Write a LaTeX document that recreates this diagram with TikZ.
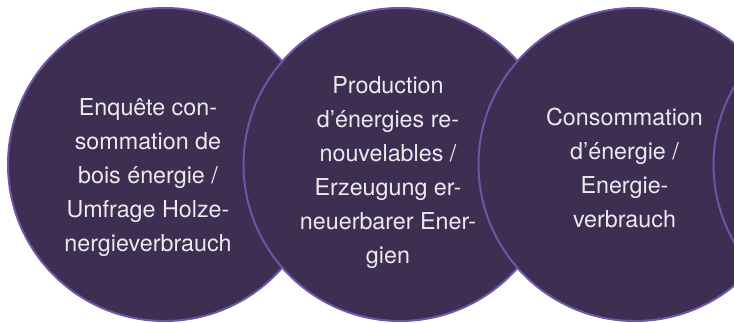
\documentclass[tikz,border=0pt]{standalone}
\usepackage{fontspec}
\setmainfont{TeX Gyre Heros}
\definecolor{circfill}{HTML}{3D2E52}
\definecolor{circedge}{HTML}{6C56A6}
\definecolor{txtcol}{HTML}{EBEBEE}
\newcommand{\topstrut}{\rule{0pt}{20pt}}
\begin{document}
\begin{tikzpicture}[x=1pt,y=-1pt,
  circ/.style={circle, fill=circfill, draw=circedge, line width=2pt, minimum size=313pt, inner sep=0pt},
  lbl/.style={align=center, text=txtcol, font=\fontsize{23.3}{34}\selectfont, inner sep=0pt, anchor=north}]
\useasboundingbox (0,0) rectangle (734,323);
\clip (0,0) rectangle (734,323);
\node[circ] (c1) at (164.5,164.5) {};
\node[circ] (c2) at (400,164.5) {};
\node[circ] (c3) at (635,164.5) {};
\node[circ] (c4) at (870,164.5) {};
\node[lbl] (t1) at (148,95) {\topstrut Enquête con-\\sommation de\\bois énergie /\\Umfrage Holze-\\nergieverbrauch};
\node[lbl] (t2) at (388,73) {\topstrut Production\\d’énergies re-\\nouvelables /\\Erzeugung er-\\neuerbarer Ener-\\gien};
\node[lbl] (t3) at (624.5,105) {\topstrut Consommation\\d’énergie /\\Energie-\\verbrauch};
\end{tikzpicture}
\end{document}
